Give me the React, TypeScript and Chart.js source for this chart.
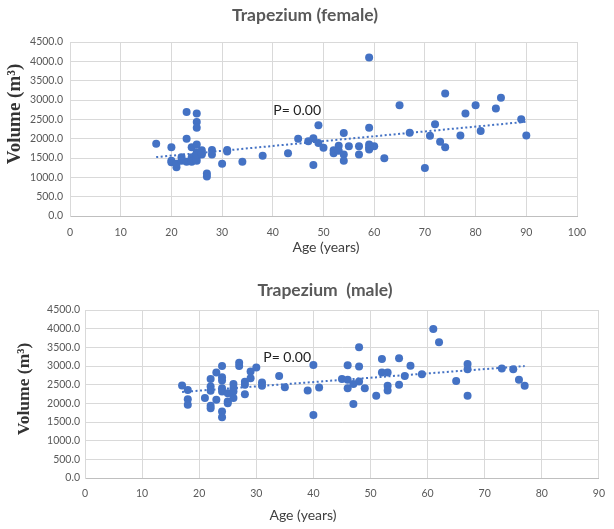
import React, { useEffect, useRef } from 'react';
import { Chart, registerables } from 'chart.js';

Chart.register(...registerables);

// female panel
const femaleAge = [17, 20, 20, 20, 21, 21, 22, 22, 23, 23, 23, 24, 24, 24, 25, 25, 25, 25, 25, 25, 25, 25, 26, 26, 26, 27, 27, 28, 28, 30, 31, 31, 34, 38, 43, 45, 47, 48, 48, 49, 49, 50, 52, 52, 53, 53, 54, 54, 54, 55, 57, 57, 59, 59, 59, 59, 59, 60, 62, 65, 67, 70, 71, 72, 73, 74, 74, 77, 78, 80, 81, 84, 85, 89, 90];
const femaleVolume = [1870, 1780, 1390, 1430, 1260, 1350, 1520, 1430, 2000, 2690, 1400, 1780, 1520, 1400, 2650, 2430, 2285, 1850, 1650, 1520, 1430, 1590, 1700, 1590, 1620, 1100, 1020, 1710, 1590, 1350, 1710, 1670, 1400, 1560, 1620, 2000, 1930, 2010, 1320, 2345, 1885, 1765, 1700, 1620, 1820, 1690, 2145, 1590, 1430, 1805, 1805, 1590, 4100, 2285, 1850, 1720, 1780, 1805, 1495, 2865, 2155, 1240, 2075, 2370, 1920, 3170, 1780, 2085, 2650, 2865, 2200, 2780, 3060, 2500, 2085];

// male panel
const maleAge = [17, 18, 18, 18, 21, 22, 22, 22, 22, 22, 23, 23, 24, 24, 24, 24, 24, 24, 24, 25, 25, 25, 26, 26, 26, 26, 27, 27, 28, 28, 28, 29, 29, 30, 31, 31, 34, 35, 39, 40, 40, 41, 45, 46, 46, 46, 47, 47, 48, 48, 48, 49, 51, 52, 52, 53, 53, 53, 55, 55, 56, 57, 59, 61, 62, 65, 67, 67, 67, 73, 75, 76, 77];
const maleVolume = [2480, 2360, 2110, 1960, 2140, 2650, 2450, 2340, 1935, 1870, 2825, 2095, 3000, 2700, 2610, 2405, 2315, 1780, 1630, 2270, 2005, 2050, 2520, 2405, 2315, 2140, 3090, 3000, 2580, 2495, 2245, 2850, 2675, 2960, 2560, 2470, 2735, 2430, 2345, 3030, 1685, 2425, 2650, 3020, 2630, 2405, 1985, 2520, 3500, 2985, 2585, 2405, 2200, 3190, 2825, 2825, 2470, 2345, 3210, 2495, 2735, 3010, 2780, 3990, 3635, 2595, 3055, 2915, 2200, 2930, 2915, 2630, 2470];

const pLabel = 'P= 0.00';
const femaleAgeMax = 100;
const maleAgeMax = 90;
const volumeMax = 4500;
const volumeStep = 500;

const BLUE = '#4472C4';
const GRID = '#d9d9d9';
const TICK = '#595959';

// least squares line, like the Excel linear trendline
function trend(xs: number[], ys: number[]) {
    const n = xs.length;
    const mx = xs.reduce((a, b) => a + b, 0) / n;
    const my = ys.reduce((a, b) => a + b, 0) / n;
    let sxy = 0;
    let sxx = 0;
    xs.forEach((x, i) => {
        sxy += (x - mx) * (ys[i] - my);
        sxx += (x - mx) * (x - mx);
    });
    const slope = sxy / sxx;
    const x0 = Math.min(...xs);
    const x1 = Math.max(...xs);
    return [
        { x: x0, y: my + slope * (x0 - mx) },
        { x: x1, y: my + slope * (x1 - mx) },
    ];
}

const Panel = ({ ages, volumes, ageMax, title, width, height, pad, yWidth, yTickPad, xHeight, xTickPad, heading, xTitle, yTitle, pAt }) => {
    const chartRef = useRef<HTMLCanvasElement | null>(null);
    const chartInstanceRef = useRef<Chart | null>(null);

    useEffect(() => {
        const ctx = chartRef.current?.getContext('2d');
        if (!ctx) return;

        // heading, axis titles and the P label, placed like in the Excel figure
        const captions = {
            id: 'captions',
            afterDraw(chart) {
                const c = chart.ctx;
                const { x, y } = chart.scales;
                c.save();
                c.textAlign = 'center';
                c.textBaseline = 'middle';
                c.font = 'bold 17.5px Lato';
                c.fillStyle = TICK;
                c.fillText(title, heading[0], heading[1]);
                c.font = '14px Lato';
                c.fillStyle = '#404040';
                c.fillText('Age (years)', xTitle[0], xTitle[1]);
                c.fillStyle = '#222222';
                c.fillText(pLabel, x.getPixelForValue(pAt[0]), y.getPixelForValue(pAt[1]));
                c.translate(yTitle[0], yTitle[1]);
                c.rotate(-Math.PI / 2);
                c.font = `bold ${yTitle[2]}px "Liberation Serif"`;
                c.fillStyle = '#333333';
                c.fillText('Volume (m³)', 0, 0);
                c.restore();
            },
        };

        chartInstanceRef.current = new Chart(ctx, {
            type: 'scatter',
            data: {
                datasets: [
                    {
                        label: 'Volume',
                        data: ages.map((a, i) => ({ x: a, y: volumes[i] })),
                        backgroundColor: BLUE,
                        borderColor: BLUE,
                        pointRadius: 4,
                        pointBorderWidth: 0,
                    },
                    {
                        type: 'line',
                        label: 'Trend',
                        data: trend(ages, volumes),
                        borderColor: BLUE,
                        borderWidth: 2,
                        borderDash: [2, 2.5],
                        pointRadius: 0,
                        fill: false,
                    },
                ],
            },
            options: {
                responsive: false,
                animation: false,
                layout: { padding: pad },
                plugins: {
                    legend: { display: false },
                    tooltip: { enabled: false },
                    title: { display: false },
                },
                scales: {
                    x: {
                        type: 'linear',
                        min: 0,
                        max: ageMax,
                        afterFit: (s) => { s.height = xHeight; },
                        grid: { color: GRID, drawTicks: false },
                        border: { color: '#bfbfbf' },
                        ticks: { stepSize: 10, padding: xTickPad, color: TICK, font: { family: 'Lato', size: 10.5 } },
                    },
                    y: {
                        min: 0,
                        max: volumeMax,
                        afterFit: (s) => { s.width = yWidth; },
                        grid: { color: GRID, drawTicks: false },
                        border: { color: GRID },
                        ticks: {
                            stepSize: volumeStep,
                            padding: yTickPad,
                            color: TICK,
                            font: { family: 'Lato', size: 10.5 },
                            callback: (v) => Number(v).toFixed(1),
                        },
                    },
                },
            },
            plugins: [captions],
        });

        return () => {
            chartInstanceRef.current?.destroy();
        };
    }, []);

    return <canvas ref={chartRef} width={width} height={height} style={{ display: 'block', width, height }} />;
};

const App = () => (
    <div style={{ position: 'absolute', left: 0, top: 0, width: 614, height: 529, background: '#fff' }}>
        <Panel
            ages={femaleAge}
            volumes={femaleVolume}
            ageMax={femaleAgeMax}
            title="Trapezium (female)"
            width={614}
            height={262}
            pad={{ left: 0, right: 37, top: 42, bottom: 0 }}
            yWidth={70}
            yTickPad={7}
            xHeight={46}
            xTickPad={10}
            heading={[305, 15]}
            xTitle={[326, 247]}
            yTitle={[15, 114, 19]}
            pAt={[44.8, 2740]}
        />
        <Panel
            ages={maleAge}
            volumes={maleVolume}
            ageMax={maleAgeMax}
            title="Trapezium  (male)"
            width={614}
            height={267}
            pad={{ left: 0, right: 13, top: 48, bottom: 0 }}
            yWidth={85}
            yTickPad={5}
            xHeight={51}
            xTickPad={9}
            heading={[325, 28]}
            xTitle={[303, 253]}
            yTitle={[24, 127, 17.5]}
            pAt={[35.4, 3240]}
        />
    </div>
);

export default App;
